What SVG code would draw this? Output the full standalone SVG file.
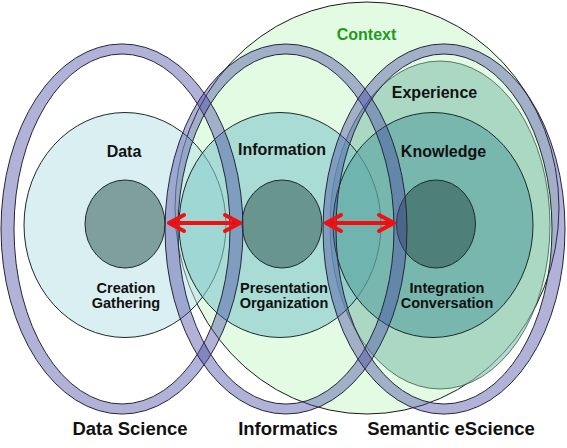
<svg xmlns="http://www.w3.org/2000/svg" width="567" height="448" viewBox="0 0 567 448">
<style>
text{font-family:"Liberation Sans",Arial,sans-serif;font-weight:bold;fill:#111;text-anchor:middle}
.lbl{font-size:16px}
.sub{font-size:14.5px}
.ring-lbl{font-size:18.5px}
.ctx-lbl{font-size:16px;fill:#1e9a1e}
.ring{fill:rgb(68,68,160);fill-opacity:0.41;fill-rule:evenodd;stroke:#26263a;stroke-width:1}
.edge{stroke:#1c2a2a;stroke-width:1}
.arrow{stroke:#f01010;stroke-width:4;fill:none}
</style>
<defs>
<marker id="ah" viewBox="-20 -10 22 20" refX="-6" refY="0" markerWidth="22" markerHeight="20" markerUnits="userSpaceOnUse" orient="auto-start-reverse" overflow="visible">
<path d="M0,0 L-9,-5.5 L-9,5.5 Z" fill="#c0103a"/>
<path d="M-17,-8 L-2,0 L-17,8" fill="none" stroke="#f01010" stroke-width="4" stroke-linecap="round" stroke-linejoin="round"/>
</marker>
</defs>
<g id="context">
<ellipse cx="367" cy="208" rx="192" ry="206" fill="#e3fbe3" stroke="#1a1a1a" stroke-width="1"/>
<text class="ctx-lbl" x="366.5" y="40">Context</text>
</g>
<g id="experience">
<ellipse cx="440" cy="225" rx="110" ry="164" fill="rgb(131,193,173)" fill-opacity="0.6" stroke="#3a5a4a" stroke-width="0.8"/>
<text class="lbl" x="434.5" y="98">Experience</text>
</g>
<g id="data">
<ellipse cx="125" cy="225" rx="101" ry="112.5" fill="rgb(181,223,228)" fill-opacity="0.5" class="edge"/>
<ellipse cx="125" cy="224" rx="40" ry="44" fill="#7f9e9e" class="edge"/>
<text class="lbl" x="124" y="157">Data</text>
<text class="sub" x="126" y="293">Creation</text>
<text class="sub" x="126" y="308">Gathering</text>
</g>
<g id="information">
<ellipse cx="280" cy="225" rx="101" ry="112.5" fill="rgb(129,200,203)" fill-opacity="0.6" class="edge"/>
<ellipse cx="282" cy="224" rx="40" ry="44" fill="#69958f" class="edge"/>
<text class="lbl" x="282" y="155">Information</text>
<text class="sub" x="284" y="293">Presentation</text>
<text class="sub" x="284" y="308">Organization</text>
</g>
<g id="knowledge">
<ellipse cx="433" cy="225" rx="100" ry="112.5" fill="rgb(99,170,165)" fill-opacity="0.7" class="edge"/>
<ellipse cx="436" cy="224" rx="39.5" ry="44" fill="#4f7f79" class="edge"/>
<text class="lbl" x="443.5" y="157">Knowledge</text>
<text class="sub" x="447" y="293">Integration</text>
<text class="sub" x="447" y="308">Conversation</text>
</g>
<g id="data-science">
<path class="ring" d="M1,229 a121,185 0 1,0 242,0 a121,185 0 1,0 -242,0 Z M14,229 a108,175 0 1,0 216,0 a108,175 0 1,0 -216,0 Z"/>
<text class="ring-lbl" x="130" y="435">Data Science</text>
</g>
<g id="informatics">
<path class="ring" d="M165,229 a121,185 0 1,0 242,0 a121,185 0 1,0 -242,0 Z M178,229 a108,175 0 1,0 216,0 a108,175 0 1,0 -216,0 Z"/>
<text class="ring-lbl" x="288" y="435">Informatics</text>
</g>
<g id="semantic-escience">
<path class="ring" d="M323,229 a121,185 0 1,0 242,0 a121,185 0 1,0 -242,0 Z M336,229 a108,175 0 1,0 216,0 a108,175 0 1,0 -216,0 Z"/>
<text class="ring-lbl" x="451" y="435">Semantic eScience</text>
</g>
<g id="connectors">
<line class="arrow" x1="173" y1="223" x2="236" y2="223" marker-start="url(#ah)" marker-end="url(#ah)"/>
<line class="arrow" x1="330" y1="223" x2="390" y2="223" marker-start="url(#ah)" marker-end="url(#ah)"/>
</g>
</svg>
